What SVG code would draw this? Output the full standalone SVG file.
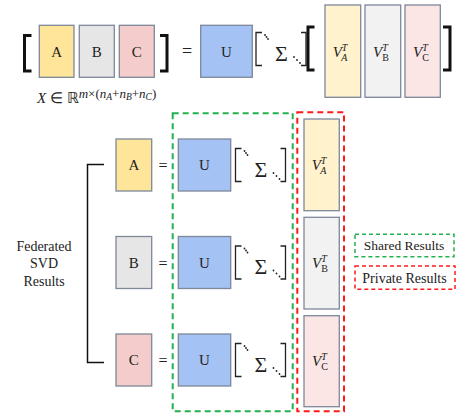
<svg xmlns="http://www.w3.org/2000/svg" width="458" height="413" viewBox="0 0 458 413" font-family="'Liberation Serif', 'Times New Roman', serif">
<style>
.box{stroke:#7d8899;stroke-width:1.3}
.a{fill:#ffe599}.b{fill:#e6e6e6}.c{fill:#f4cccc}.u{fill:#a4c2f4}
.va{fill:#fff2cc}.vb{fill:#f2f2f2}.vc{fill:#fbe5e5}
text{font-family:'Liberation Serif','Times New Roman',serif}
.t{fill:#222;font-size:15px;text-anchor:middle}
.it{font-style:italic}
.sb{fill:none;stroke:#222;stroke-width:1.3}
.bb{fill:none;stroke:#111;stroke-width:3}
.ln{fill:none;stroke:#111;stroke-width:1.5}
.gd{fill:none;stroke:#22b14c;stroke-width:2;stroke-dasharray:6 4}
.rd{fill:none;stroke:#ff1a1a;stroke-width:2;stroke-dasharray:6 4}
.dot{fill:#222}
</style>
<defs>
<g id="sigma">
<path class="sb" d="M6 0 H0 V33 H6"/>
<circle class="dot" cx="9" cy="2.5" r="0.9"/><circle class="dot" cx="10.5" cy="4.5" r="0.9"/><circle class="dot" cx="12" cy="6.5" r="0.9"/>
<text class="t" x="25.5" y="28" style="font-size:22px">Σ</text>
<circle class="dot" cx="38" cy="24.5" r="0.9"/><circle class="dot" cx="41" cy="27.5" r="0.9"/><circle class="dot" cx="44" cy="30.5" r="0.9"/>
<path class="sb" d="M45 0 H50 V33 H45"/>
</g>
</defs>

<g id="connectors">
<path class="ln" d="M104 164.5 H87.5 V362.5 H104"/>
</g>

<g id="top-equation">
<path class="bb" d="M31.5 35.5 H24.5 V71 H31.5"/>
<rect class="box a" x="39.3" y="25.3" width="34.7" height="52"/>
<text class="t" x="56.7" y="56.5">A</text>
<rect class="box b" x="79.3" y="25.3" width="35" height="52"/>
<text class="t" x="96.8" y="56.5">B</text>
<rect class="box c" x="119.3" y="25.3" width="35" height="52"/>
<text class="t" x="136.8" y="56.5">C</text>
<path class="bb" d="M160 35.5 H167 V71 H160"/>
<text class="t" x="187" y="57" style="font-size:18px">=</text>
<rect class="box u" x="200.7" y="25.3" width="51.6" height="52"/>
<text class="t" x="226.5" y="56.5">U</text>
<use href="#sigma" x="256" y="32.5"/>
<path class="bb" d="M314.5 27 H308 V70 H314.5"/>
<rect class="box va" x="325" y="5" width="35.7" height="92.3"/>
<text class="t it" x="340" y="57" style="font-size:15px">V<tspan dy="-6" style="font-size:10px">T</tspan><tspan dx="-5.5" dy="9.5" style="font-size:10px">A</tspan></text>
<rect class="box vb" x="365" y="5" width="35.7" height="92.3"/>
<text class="t" x="381" y="57" style="font-size:15px"><tspan class="it">V</tspan><tspan class="it" dy="-6" style="font-size:10px">T</tspan><tspan dx="-5.5" dy="9.5" style="font-size:10px">B</tspan></text>
<rect class="box vc" x="405" y="5" width="35.3" height="92.3"/>
<text class="t" x="421" y="57" style="font-size:15px"><tspan class="it">V</tspan><tspan class="it" dy="-6" style="font-size:10px">T</tspan><tspan dx="-5.5" dy="9.5" style="font-size:10px">C</tspan></text>
<path class="bb" d="M443 27 H450 V70 H443"/>
<text class="t" x="37" y="102.5" style="text-anchor:start;font-size:15px"><tspan class="it">X</tspan> ∈ ℝ<tspan dy="-5" style="font-size:13px"><tspan class="it">m</tspan>×(<tspan class="it">n</tspan><tspan class="it" dy="2.5" style="font-size:9.5px">A</tspan><tspan dy="-2.5">+</tspan><tspan class="it">n</tspan><tspan class="it" dy="2.5" style="font-size:9.5px">B</tspan><tspan dy="-2.5">+</tspan><tspan class="it">n</tspan><tspan class="it" dy="2.5" style="font-size:9.5px">C</tspan><tspan dy="-2.5">)</tspan></tspan></text>
</g>

<g id="label">
<text class="t" x="44" y="251" style="font-size:14px">Federated</text>
<text class="t" x="44" y="268" style="font-size:14px">SVD</text>
<text class="t" x="44" y="286" style="font-size:14px">Results</text>
</g>

<g id="shared-box"><rect class="gd" x="172.7" y="113.3" width="120" height="298"/></g>
<g id="private-box"><rect class="rd" x="297.3" y="112.3" width="46.7" height="299"/></g>

<g id="row-a">
<rect class="box a" x="116" y="139" width="35.7" height="52"/>
<text class="t" x="133.8" y="170">A</text>
<text class="t" x="163" y="171" style="font-size:16px">=</text>
<rect class="box u" x="178.3" y="139" width="52.4" height="52"/>
<text class="t" x="204.5" y="170">U</text>
<use href="#sigma" x="235.5" y="148.5"/>
</g>
<g id="row-b">
<rect class="box b" x="116" y="236.5" width="35.7" height="52"/>
<text class="t" x="133.8" y="267.5">B</text>
<text class="t" x="163" y="268.5" style="font-size:16px">=</text>
<rect class="box u" x="178.3" y="236.5" width="52.4" height="52"/>
<text class="t" x="204.5" y="267.5">U</text>
<use href="#sigma" x="235.5" y="246"/>
</g>
<g id="row-c">
<rect class="box c" x="116" y="334" width="35.7" height="52"/>
<text class="t" x="133.8" y="365">C</text>
<text class="t" x="163" y="366" style="font-size:16px">=</text>
<rect class="box u" x="178.3" y="334" width="52.4" height="52"/>
<text class="t" x="204.5" y="365">U</text>
<use href="#sigma" x="235.5" y="343.5"/>
</g>

<g id="va">
<rect class="box va" x="304" y="119" width="35.3" height="91.7"/>
<text class="t it" x="319" y="170" style="font-size:15px">V<tspan dy="-6" style="font-size:10px">T</tspan><tspan dx="-5.5" dy="9.5" style="font-size:10px">A</tspan></text>
</g>
<g id="vb">
<rect class="box vb" x="304" y="217.3" width="35.3" height="91.7"/>
<text class="t" x="320" y="268" style="font-size:15px"><tspan class="it">V</tspan><tspan class="it" dy="-6" style="font-size:10px">T</tspan><tspan dx="-5.5" dy="9.5" style="font-size:10px">B</tspan></text>
</g>
<g id="vc">
<rect class="box vc" x="304" y="315.7" width="35.3" height="91"/>
<text class="t" x="320" y="366" style="font-size:15px"><tspan class="it">V</tspan><tspan class="it" dy="-6" style="font-size:10px">T</tspan><tspan dx="-5.5" dy="9.5" style="font-size:10px">C</tspan></text>
</g>

<g id="legend-shared">
<rect class="gd" x="355" y="234.3" width="99" height="22.4" style="stroke-width:1.5;stroke-dasharray:4 3"/>
<text class="t" x="404" y="249.5" style="font-size:13.5px">Shared Results</text>
</g>
<g id="legend-private">
<rect class="rd" x="355" y="266" width="100" height="23.3" style="stroke-width:1.5;stroke-dasharray:4 3"/>
<text class="t" x="404.5" y="283" style="font-size:14px">Private Results</text>
</g>
</svg>
